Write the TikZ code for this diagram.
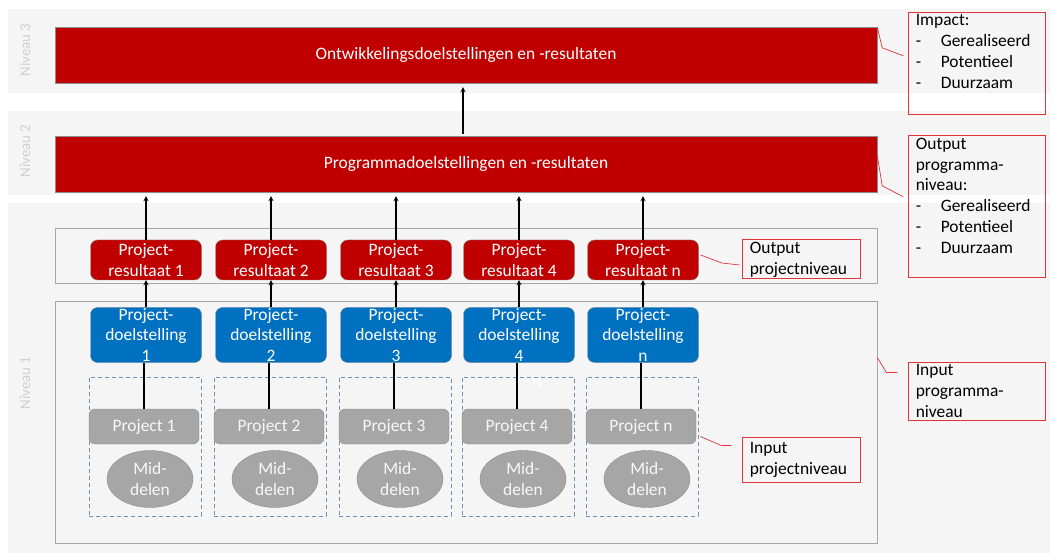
\documentclass[tikz,border=0pt]{standalone}
\usepackage{fontspec}
\setmainfont{Carlito}
\usetikzlibrary{shapes.geometric}
\definecolor{bandgrijs}{HTML}{F5F5F5}
\definecolor{donkerrood}{HTML}{C00000}
\definecolor{blauw}{HTML}{0070C0}
\definecolor{grijs}{HTML}{A6A6A6}
\definecolor{randgrijs}{HTML}{8C8C8C}
\definecolor{kadergrijs}{HTML}{A6A6A6}
\definecolor{stippel}{HTML}{6C93BC}
\definecolor{lijnrood}{HTML}{E0353C}
\definecolor{niveaugrijs}{HTML}{D0D0D0}
\begin{document}
\begin{tikzpicture}[
        x=1bp, y=-1bp,
        every node/.style={inner sep=0pt, font=\fontsize{17.5}{21}\selectfont},
        balk/.style={draw=randgrijs, fill=donkerrood, text=white, minimum width=822bp, minimum height=56bp},
        kader/.style={draw=kadergrijs, line width=0.8bp, minimum width=822bp},
        resbox/.style={draw=randgrijs, fill=donkerrood, rounded corners=7bp, minimum width=111bp, minimum height=40bp},
        doelbox/.style={draw=randgrijs, fill=blauw, rounded corners=7bp, minimum width=111bp, minimum height=55bp},
        projbox/.style={draw=randgrijs, fill=grijs, text=white!92!grijs, rounded corners=6bp, minimum width=110bp, minimum height=35bp},
        middel/.style={ellipse, draw=randgrijs, fill=grijs, text=white!92!grijs, align=center, minimum width=86bp, minimum height=57bp},
        stippelkader/.style={draw=stippel, line width=0.7bp, dash pattern=on 4bp off 3bp, minimum width=112bp, minimum height=139bp},
        wittekst/.style={text=white, align=center},
        pijl/.style={line width=1.2bp, -stealth},
        lijn/.style={draw=lijnrood, line width=0.7bp},
        callout/.style={draw=lijnrood, line width=0.8bp},
        callouttekst/.style={anchor=north west, align=left, xshift=8bp, yshift=-3bp},
        niveau/.style={rotate=90, text=niveaugrijs, font=\fontsize{15}{18}\selectfont}
    ]
        \useasboundingbox (0,0) rectangle (1053,556);
        % achtergrond per niveau
        \fill[bandgrijs] (8,9) rectangle (1050,93);
        \fill[bandgrijs] (8,111) rectangle (1050,195);
        \fill[bandgrijs] (8,203) rectangle (1050,553);
        \node[niveau] (niv3) at (25,50) {Niveau 3};
        \node[niveau] (niv2) at (25,151) {Niveau 2};
        \node[niveau] (niv1) at (25,383) {Niveau 1};

        \node[balk] (ontw) at (466,55) {Ontwikkelingsdoelstellingen en -resultaten};
        \node[balk] (prog) at (466,164) {Programmadoelstellingen en -resultaten};
        \node[kader, minimum height=55bp] (uitvoer) at (466,255.5) {};
        \node[kader, minimum height=242bp] (invoer) at (466,422) {};

        % projecten
        \foreach \i/\x/\n in {1/146/1, 2/271/2, 3/396/3, 4/519/4, 5/643/n} {
            \node[stippelkader] (kader\i) at (\x-1,446.5) {};
            \node[resbox] (res\i) at (\x,260) {};
            \node[wittekst] (restekst\i) at (res\i) {Project-\\resultaat \n};
            \node[doelbox] (doel\i) at (\x,335) {};
            \node[wittekst] (doeltekst\i) at (doel\i) {Project-\\doelstelling\\\n};
            \node[projbox] (proj\i) at (\x-2,426.5) {Project \n};
            \node[middel] (mid\i) at (\x+4,479) {Mid-\\delen};
            \draw[line width=1.2bp] (proj\i.north) -- (proj\i.north |- doel\i.south);
            \draw[pijl] (doel\i.north) -- (res\i.south);
            \draw[pijl, shorten >=4bp] (res\i.north) -- (res\i.north |- prog.south);
        }
        \node[text=white, font=\fontsize{14}{16}\selectfont] (letter) at (537,383) {N};
        \draw[pijl, shorten >=4bp, shorten <=2bp] ([xshift=-3bp]prog.north) -- ([xshift=-3bp]ontw.south);

        % toelichting
        \node[callout, minimum width=137bp, minimum height=102bp] (impact) at (976.5,63) {};
        \node[callouttekst] (impacttekst) at (impact.north west)
            {Impact:\\\makebox[25bp][l]{-}Gerealiseerd\\\makebox[25bp][l]{-}Potentieel\\\makebox[25bp][l]{-}Duurzaam};
        \node[callout, minimum width=137bp, minimum height=142bp] (outprog) at (976.5,206) {};
        \node[callouttekst] (outprogtekst) at (outprog.north west)
            {Output\\programma-\\niveau:\\\makebox[25bp][l]{-}Gerealiseerd\\\makebox[25bp][l]{-}Potentieel\\\makebox[25bp][l]{-}Duurzaam};
        \node[callout, minimum width=118bp, minimum height=39bp] (outproj) at (801,258.5) {};
        \node[callouttekst] (outprojtekst) at (outproj.north west) {Output\\projectniveau};
        \node[callout, minimum width=137bp, minimum height=58bp] (inprog) at (976.5,391) {};
        \node[callouttekst] (inprogtekst) at (inprog.north west) {Input\\programma-\\niveau};
        \node[callout, minimum width=118bp, minimum height=45bp] (inproj) at (801,459.5) {};
        \node[callouttekst, yshift=-3bp] (inprojtekst) at (inproj.north west) {Input\\projectniveau};

        \draw[lijn] (ontw.north east) -- ++(5,21) -- ++(21,8);
        \draw[lijn] (prog.north east) ++(0,19) -- ++(5,31) -- ++(21,11);
        \draw[lijn] (res5.east) ++(2,-5) -- ++(21,8) -- ++(18,2);
        \draw[lijn] (invoer.north east) ++(0,57) -- ++(9,15) -- ++(11,0);
        \draw[lijn] (kader5.east) ++(2,-10) -- ++(21,9) -- ++(10,0);
    \end{tikzpicture}
\end{document}
